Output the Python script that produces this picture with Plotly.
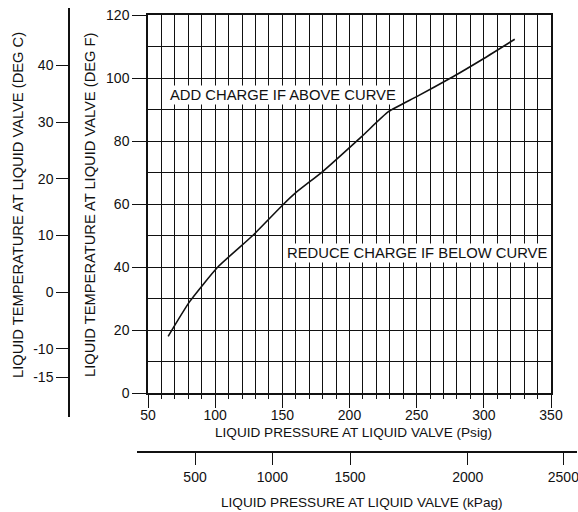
import plotly.graph_objects as go

# Curve: liquid pressure (psig) vs liquid temperature (deg F)
pressure_psig = [65, 81, 102, 128, 151, 160, 180, 209, 229, 250, 277, 300, 323]
temp_f = [18, 29, 40, 50, 60, 63.6, 70.3, 81.4, 89.3, 94.1, 100.4, 106.2, 112.3]

# Secondary scales printed on the chart
degc_ticks = [40, 30, 20, 10, 0, -10, -15]
degc_labels = ["40", "30", "20", "10", "0", "-10", "-15"]
kpag_labels = ["500", "1000", "1500", "2000", "2500"]
kpag_at_psig = [85, 142.6, 200.4, 288, 359.2]   # where the chart prints them

W, H = 578, 512
PX_L, PX_R = 148, 551      # psig 50 .. 350
PX_B, PX_T = 393, 15       # deg F 0 .. 120


def fx(p):
    return p / W


def fy(p):
    return (H - p) / H


def psig_at(p):
    return 50 + 300 * (p - PX_L) / (PX_R - PX_L)


def degc_at(p):
    f = 120 * (PX_B - p) / (PX_B - PX_T)
    return (f - 32) / 1.8


font = "Liberation Sans, Arial, sans-serif"
ink = "#111111"

fig = go.Figure()
fig.add_trace(go.Scatter(
    x=pressure_psig, y=temp_f, mode="lines",
    line=dict(color=ink, width=1.6, shape="spline", smoothing=0.5),
    hoverinfo="skip", showlegend=False,
))
# invisible twin so the deg C / kPag axes get drawn
fig.add_trace(go.Scatter(
    x=pressure_psig, y=[(t - 32) / 1.8 for t in temp_f],
    xaxis="x2", yaxis="y2", mode="lines", opacity=0,
    hoverinfo="skip", showlegend=False,
))

grid = dict(showgrid=True, gridcolor=ink, gridwidth=1.4)

fig.update_layout(
    width=W, height=H,
    margin=dict(l=0, r=0, t=0, b=0),
    template="none",
    paper_bgcolor="white",
    plot_bgcolor="rgba(0,0,0,0)",
    font=dict(family=font, size=14, color=ink),
    xaxis=dict(
        domain=[fx(PX_L), fx(PX_R)], range=[50, 350],
        tick0=50, dtick=50, ticks="outside", ticklen=13, tickwidth=1.3,
        ticklabelstandoff=-5,
        tickcolor=ink, showline=True, linecolor=ink, linewidth=1.5, mirror=True,
        zeroline=False, automargin=False, fixedrange=True,
        minor=dict(dtick=10, ticks="outside", ticklen=4, tickcolor=ink, **grid),
        **grid,
    ),
    yaxis=dict(
        domain=[fy(PX_B), fy(PX_T)], range=[0, 120],
        dtick=20, ticks="outside", ticklen=14, tickwidth=1.3, tickcolor=ink,
        showline=True, linecolor=ink, linewidth=1.5, mirror=True,
        zeroline=False, automargin=False, fixedrange=True,
        minor=dict(dtick=10, ticks="", **grid),
        **grid,
    ),
    xaxis2=dict(
        domain=[fx(137), fx(577)], range=[psig_at(137), psig_at(577)],
        anchor="free", position=fy(452), side="bottom",
        tickvals=kpag_at_psig, ticktext=kpag_labels, ticklabeloverflow="allow",
        ticks="outside", ticklen=12, tickwidth=1.3, tickcolor=ink,
        showline=True, linecolor=ink, linewidth=1.5, showgrid=False,
        zeroline=False, automargin=False, fixedrange=True,
    ),
    yaxis2=dict(
        domain=[fy(417), fy(8)], range=[degc_at(417), degc_at(8)],
        anchor="free", position=fx(69), side="left",
        tickvals=degc_ticks, ticktext=degc_labels, ticks="outside", ticklen=12,
        tickwidth=1.3, tickcolor=ink, showline=True, linecolor=ink, linewidth=1.5,
        showgrid=False, zeroline=False, automargin=False, fixedrange=True,
    ),
)

note = dict(showarrow=False, bgcolor="white", font=dict(size=14.8, color=ink), borderpad=1)
fig.add_annotation(x=150.5, y=94.6, text="ADD CHARGE IF ABOVE CURVE", **note)
fig.add_annotation(x=250.3, y=44.4, text="REDUCE CHARGE IF BELOW CURVE", **note)

title = dict(xref="paper", yref="paper", showarrow=False, xanchor="center", yanchor="middle")
fig.add_annotation(x=fx(354), y=fy(432), text="LIQUID PRESSURE AT LIQUID VALVE (Psig)",
                   font=dict(size=13.6, color=ink), **title)
fig.add_annotation(x=fx(362), y=fy(502), text="LIQUID PRESSURE AT LIQUID VALVE (kPag)",
                   font=dict(size=13.6, color=ink), **title)
fig.add_annotation(x=fx(90), y=fy(205), textangle=-90,
                   text="LIQUID TEMPERATURE AT LIQUID VALVE (DEG F)",
                   font=dict(size=14.7, color=ink), **title)
fig.add_annotation(x=fx(18), y=fy(205), textangle=-90,
                   text="LIQUID TEMPERATURE AT LIQUID VALVE (DEG C)",
                   font=dict(size=14.7, color=ink), **title)

# drop the page's default body margin so the 578x512 figure fills the window
fig.write_html("out.html", config={"displayModeBar": False},
               post_script="document.body.style.margin='0';")
